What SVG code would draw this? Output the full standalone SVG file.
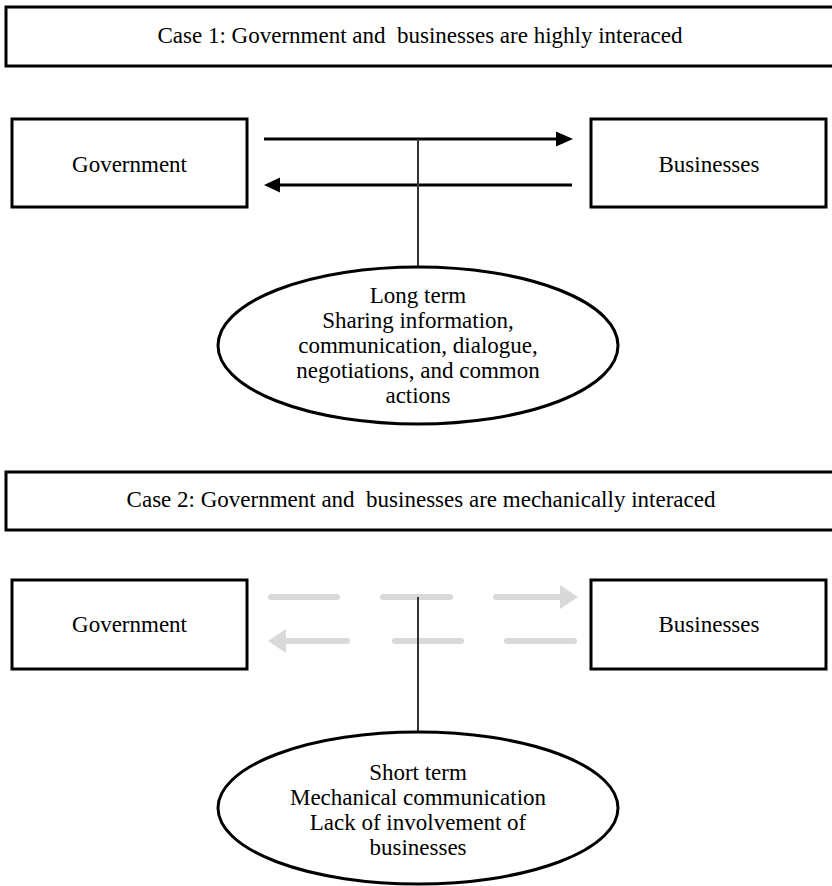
<svg xmlns="http://www.w3.org/2000/svg" width="832" height="886" viewBox="0 0 832 886">
<defs>
<style>
.box{fill:#fff;stroke:#000;stroke-width:3}
.oval{fill:#fff;stroke:#000;stroke-width:3}
.t{font-family:"Liberation Serif","Times New Roman",serif;font-size:23px;fill:#000;text-anchor:middle}
.conn{stroke:#000;stroke-width:3;fill:none}
.stem{stroke:#333;stroke-width:2;fill:none}
.grey{stroke:#d9d9d9;stroke-width:6;stroke-linecap:round;fill:none}
.head{fill:#000}
.ghead{fill:#d9d9d9}
</style>
</defs>
<rect width="832" height="886" fill="#fff"/>

<g id="case1-title">
<rect class="box" x="6" y="7" width="840" height="59"/>
<text class="t" x="420" y="43" xml:space="preserve">Case 1: Government and  businesses are highly interaced</text>
</g>

<g id="connectors">
<!-- case 1 -->
<line class="conn" x1="264" y1="139" x2="559" y2="139"/>
<polygon class="head" points="556,131.5 573,139 556,146.5"/>
<line class="conn" x1="572" y1="185" x2="277" y2="185"/>
<polygon class="head" points="280,177.5 264,185 280,192.5"/>
<line class="stem" x1="418" y1="139" x2="418" y2="267"/>
<!-- case 2 -->
<line class="grey" x1="271" y1="597" x2="337" y2="597"/>
<line class="grey" x1="383" y1="597" x2="450" y2="597"/>
<line class="grey" x1="496" y1="597" x2="561" y2="597"/>
<polygon class="ghead" points="560,585 578,597 560,609"/>
<line class="grey" x1="284" y1="641" x2="347" y2="641"/>
<polygon class="ghead" points="286,629 268,641 286,653"/>
<line class="grey" x1="395" y1="641" x2="461" y2="641"/>
<line class="grey" x1="507" y1="641" x2="574" y2="641"/>
<line class="stem" x1="418" y1="597" x2="418" y2="732"/>
</g>

<g id="gov1">
<rect class="box" x="12" y="119" width="235" height="88"/>
<text class="t" x="129.5" y="172">Government</text>
</g>
<g id="bus1">
<rect class="box" x="591" y="119" width="235" height="88"/>
<text class="t" x="709" y="172">Businesses</text>
</g>

<g id="oval1">
<ellipse class="oval" cx="418" cy="345.5" rx="200" ry="78.5"/>
<text class="t" x="418" y="303">Long term</text>
<text class="t" x="418" y="328">Sharing information,</text>
<text class="t" x="418" y="353">communication, dialogue,</text>
<text class="t" x="418" y="378">negotiations, and common</text>
<text class="t" x="418" y="403">actions</text>
</g>

<g id="case2-title">
<rect class="box" x="6" y="472" width="840" height="58"/>
<text class="t" x="421" y="507" xml:space="preserve">Case 2: Government and  businesses are mechanically interaced</text>
</g>

<g id="gov2">
<rect class="box" x="12" y="580" width="235" height="89"/>
<text class="t" x="129.5" y="632">Government</text>
</g>
<g id="bus2">
<rect class="box" x="591" y="580" width="235" height="89"/>
<text class="t" x="709" y="632">Businesses</text>
</g>

<g id="oval2">
<ellipse class="oval" cx="418" cy="808" rx="200" ry="76"/>
<text class="t" x="418" y="780">Short term</text>
<text class="t" x="418" y="805">Mechanical communication</text>
<text class="t" x="418" y="830">Lack of involvement of</text>
<text class="t" x="418" y="855">businesses</text>
</g>
</svg>
